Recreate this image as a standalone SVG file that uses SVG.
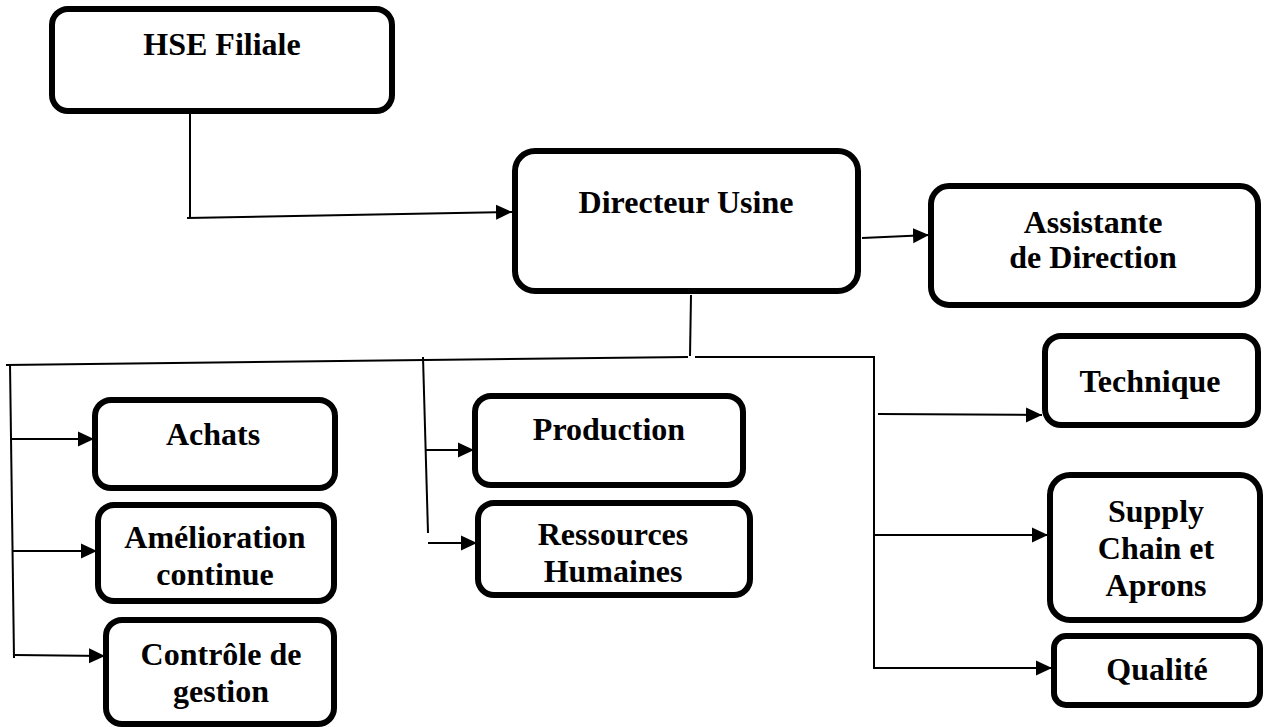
<svg xmlns="http://www.w3.org/2000/svg" width="1264" height="727" viewBox="0 0 1264 727">
  <style>
    .box { fill: #ffffff; stroke: #000000; stroke-width: 6; }
    .lbl { font-family: "Liberation Serif", "Times New Roman", serif; font-weight: bold; font-size: 32px; fill: #000000; text-anchor: middle; }
    .wire { fill: none; stroke: #000000; stroke-width: 2; }
  </style>
  <defs>
    <marker id="arrow" markerUnits="userSpaceOnUse" markerWidth="17" markerHeight="16" refX="16" refY="8" orient="auto">
      <path d="M0,0.5 L16,8 L0,15.5 Z" fill="#000000"/>
    </marker>
  </defs>
  <rect width="1264" height="727" fill="#ffffff"/>

  <!-- connectors -->
  <g id="connectors">
    <!-- HSE Filiale to Directeur Usine -->
    <polyline class="wire" points="190,112 190,218"/>
    <line class="wire" x1="187" y1="218" x2="512" y2="212" marker-end="url(#arrow)"/>
    <!-- Directeur Usine to Assistante -->
    <line class="wire" x1="862" y1="238" x2="929" y2="235" marker-end="url(#arrow)"/>
    <!-- trunk down from Directeur Usine -->
    <line class="wire" x1="691" y1="295" x2="690" y2="356"/>
    <!-- left branch bar -->
    <line class="wire" x1="6" y1="365" x2="688" y2="357"/>
    <!-- right branch bar -->
    <polyline class="wire" points="695,357 874,357 874,668 1052,668" marker-end="url(#arrow)"/>
    <!-- left column -->
    <line class="wire" x1="10" y1="364" x2="14" y2="658"/>
    <line class="wire" x1="10" y1="439" x2="94" y2="439" marker-end="url(#arrow)"/>
    <line class="wire" x1="12" y1="551" x2="97" y2="551" marker-end="url(#arrow)"/>
    <line class="wire" x1="15" y1="655" x2="105" y2="656" marker-end="url(#arrow)"/>
    <!-- middle column -->
    <line class="wire" x1="423" y1="357" x2="428" y2="533"/>
    <line class="wire" x1="426" y1="450" x2="474" y2="450" marker-end="url(#arrow)"/>
    <line class="wire" x1="428" y1="543" x2="477" y2="543" marker-end="url(#arrow)"/>
    <!-- right column -->
    <line class="wire" x1="878" y1="414" x2="1042" y2="415" marker-end="url(#arrow)"/>
    <line class="wire" x1="874" y1="535" x2="1048" y2="535" marker-end="url(#arrow)"/>
  </g>

  <g id="hse-filiale">
    <rect class="box" x="52" y="9" width="340" height="102" rx="16"/>
    <text class="lbl" x="222" y="55">HSE Filiale</text>
  </g>

  <g id="directeur-usine">
    <rect class="box" x="515" y="151" width="343" height="140" rx="20"/>
    <text class="lbl" x="686" y="213">Directeur Usine</text>
  </g>

  <g id="assistante-direction">
    <rect class="box" x="931" y="186" width="327" height="119" rx="18"/>
    <text class="lbl" x="1093" y="233">Assistante</text>
    <text class="lbl" x="1093" y="268">de Direction</text>
  </g>

  <g id="technique">
    <rect class="box" x="1045" y="336" width="213" height="89" rx="16"/>
    <text class="lbl" x="1150" y="392">Technique</text>
  </g>

  <g id="achats">
    <rect class="box" x="95" y="400" width="240" height="88" rx="16"/>
    <text class="lbl" x="213" y="445">Achats</text>
  </g>

  <g id="amelioration-continue">
    <rect class="box" x="98" y="505" width="236" height="96" rx="16"/>
    <text class="lbl" x="215" y="548">Amélioration</text>
    <text class="lbl" x="215" y="585">continue</text>
  </g>

  <g id="controle-gestion">
    <rect class="box" x="106" y="620" width="228" height="104" rx="16"/>
    <text class="lbl" x="221" y="665">Contrôle de</text>
    <text class="lbl" x="221" y="702">gestion</text>
  </g>

  <g id="production">
    <rect class="box" x="475" y="396" width="268" height="89" rx="16"/>
    <text class="lbl" x="609" y="440">Production</text>
  </g>

  <g id="ressources-humaines">
    <rect class="box" x="478" y="503" width="272" height="92" rx="16"/>
    <text class="lbl" x="613" y="545">Ressources</text>
    <text class="lbl" x="613" y="582">Humaines</text>
  </g>

  <g id="supply-chain">
    <rect class="box" x="1050" y="475" width="210" height="145" rx="20"/>
    <text class="lbl" x="1156" y="522">Supply</text>
    <text class="lbl" x="1156" y="559">Chain et</text>
    <text class="lbl" x="1156" y="596">Aprons</text>
  </g>

  <g id="qualite">
    <rect class="box" x="1054" y="636" width="206" height="69" rx="12"/>
    <text class="lbl" x="1157" y="680">Qualité</text>
  </g>
</svg>
